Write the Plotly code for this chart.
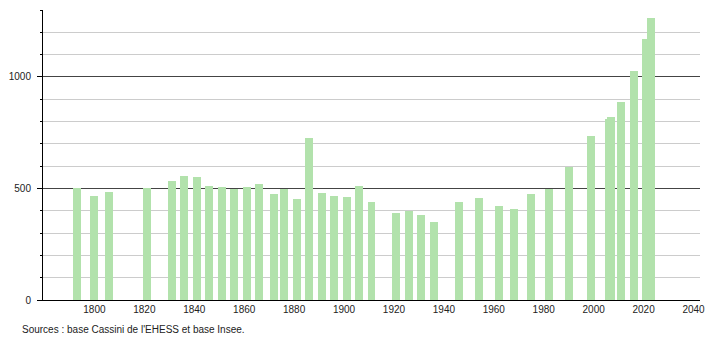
import plotly.graph_objects as go

years = [1793, 1800, 1806, 1821, 1831, 1836, 1841, 1846, 1851, 1856,
         1861, 1866, 1872, 1876, 1881, 1886, 1891, 1896, 1901, 1906,
         1911, 1921, 1926, 1931, 1936, 1946, 1954, 1962, 1968, 1975,
         1982, 1990, 1999, 2006, 2007, 2011, 2016, 2021, 2023]
population = [500, 468, 486, 504, 534, 557, 552, 513, 506, 498,
              506, 521, 476, 497, 453, 727, 480, 467, 462, 512,
              440, 392, 398, 382, 350, 440, 458, 422, 409, 477,
              498, 594, 733, 811, 819, 889, 1028, 1171, 1265]
x_ticks = [1800, 1820, 1840, 1860, 1880, 1900, 1920, 1940, 1960, 1980, 2000, 2020, 2040]
y_ticks = [0, 500, 1000]
source_text = "Sources : base Cassini de l'EHESS et base Insee."

fig = go.Figure()
fig.add_trace(go.Bar(x=years, y=population, width=3.2,
                     marker=dict(color="#b2e2ac", line=dict(width=0))))

fig.update_layout(
    width=710, height=340,
    margin=dict(l=43, r=10, t=10, b=40, autoexpand=False),
    paper_bgcolor="white", plot_bgcolor="white",
    showlegend=False,
    font=dict(family="Liberation Sans, Arial, sans-serif", size=10, color="#222"),
    bargap=0,
)
fig.update_xaxes(
    range=[1779.4, 2042.6], automargin=False,
    tickmode="array", tickvals=x_ticks, ticktext=[str(v) for v in x_ticks],
    showgrid=False, zeroline=False,
    showline=True, linecolor="black", linewidth=1,
    ticks="", ticklabelstandoff=0,
)
fig.update_yaxes(
    range=[0, 1300], automargin=False,
    tickmode="array", tickvals=y_ticks, ticktext=[str(v) for v in y_ticks],
    showgrid=True, gridcolor="#444", gridwidth=1,
    zeroline=False,
    showline=True, linecolor="black", linewidth=1,
    ticks="outside", ticklen=5, tickcolor="black",
    ticklabelstandoff=4,
    minor=dict(dtick=100, tick0=0, showgrid=True, gridcolor="#cccccc",
               ticks="outside", ticklen=2, tickcolor="black"),
)
fig.add_annotation(text=source_text, xref="paper", yref="paper",
                   x=-0.035, y=-0.1, xanchor="left", yanchor="middle",
                   showarrow=False, font=dict(size=10, color="#222"))

fig.write_html("out.html")
